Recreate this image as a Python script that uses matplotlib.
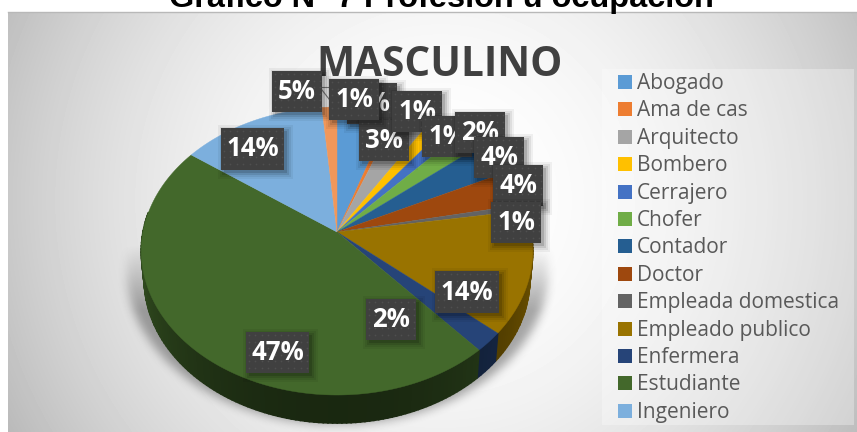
import numpy as np
import matplotlib
matplotlib.use('Agg')
import matplotlib.pyplot as plt
from matplotlib.patches import Rectangle, Polygon

categorias = ['Abogado', 'Ama de cas', 'Arquitecto', 'Bombero', 'Cerrajero', 'Chofer', 'Contador',
              'Doctor', 'Empleada domestica', 'Empleado publico', 'Enfermera', 'Estudiante', 'Ingeniero']
# la ultima porcion no sale en la leyenda recortada
valores = [5.1, 0.6, 3.1, 1.5, 1.5, 2.2, 3.8, 4.0, 0.7, 13.8, 2.2, 46.4, 13.6, 1.4]
colores = ['#5B9BD5', '#ED7D31', '#A5A5A5', '#FFC000', '#4472C4', '#70AD47', '#255E91',
           '#9E480E', '#636363', '#997300', '#264478', '#43682B', '#7CAFDD', '#F1975A']
textos = ['5%', '3%', '1%', '1%', '2%', '4%', '4%', '1%', '14%', '2%', '47%', '14%']

W, H = 857, 432
fig = plt.figure(figsize=(W / 100, H / 100), dpi=100)
ax = fig.add_axes([0, 0, 1, 1])
ax.axis('off')

# fondo con degradado radial
yy, xx = np.mgrid[12:H, 8:W]
d = np.hypot(xx - 440, yy - 200) / 470
fondo = np.clip(1 - 0.25 * d ** 2, 0, 1)
ax.imshow(fondo, extent=(8, W, H, 12), cmap='gray', vmin=0, vmax=1, zorder=0, aspect='auto')
ax.plot([8, W], [12, 12], color='#b8b8b8', lw=1, zorder=1)

# panel de la leyenda, algo mas claro
ax.add_patch(Rectangle((602, 69), 252, 356, fc='white', ec='none', alpha=0.3, zorder=0.5))

# sombra difusa debajo de la torta
yy, xx = np.mgrid[0:H, 0:W]
mask = (((xx - 337) / 211.0) ** 2 + ((yy - 270) / 154.0) ** 2 < 1).astype(float)
kernel = np.ones(11) / 11
for _ in range(2):
    mask = np.apply_along_axis(lambda r: np.convolve(r, kernel, mode='same'), 0, mask)
    mask = np.apply_along_axis(lambda r: np.convolve(r, kernel, mode='same'), 1, mask)
sombra = np.zeros((H, W, 4))
sombra[..., :3] = 0.25
sombra[..., 3] = 0.45 * mask * np.clip((yy - 245) / 65.0, 0, 1)
ax.imshow(sombra, extent=(0, W, H, 0), zorder=1, aspect='auto')
ax.set_xlim(0, W)
ax.set_ylim(H, 0)

# proyeccion en perspectiva del circulo
cx, cy = 337, 232
k, A, B = 0.132, 141.5, 194
grosor = 28


def proyectar(ang):
    u, v = np.sin(ang), -np.cos(ang)
    return cx + B * u / (1 - k * v), cy + A * v / (1 - k * v)


def oscurecer(color, f):
    return tuple(c * f for c in matplotlib.colors.to_rgb(color))


bordes = np.cumsum([0] + valores) / sum(valores) * 2 * np.pi

# paredes laterales
for i, col in enumerate(colores):
    a = np.linspace(bordes[i], bordes[i + 1], max(3, int(valores[i] * 3)))
    px, py = proyectar(a)
    for j in range(len(a) - 1):
        med = (a[j] + a[j + 1]) / 2
        if np.cos(med) > 0.15:
            continue
        f = 0.72 - 0.34 * max(0, -np.cos(med)) ** 1.5
        qx = cx + (px[j:j + 2] - cx) * 0.985
        qy = py[j:j + 2] + grosor
        pts = [(px[j], py[j]), (px[j + 1], py[j + 1]), (qx[1], qy[1]), (qx[0], qy[0])]
        c = oscurecer(col, f)
        ax.add_patch(Polygon(pts, closed=True, fc=c, ec=c, lw=1.2, zorder=2))

# cara superior
for i, col in enumerate(colores):
    a = np.linspace(bordes[i], bordes[i + 1], max(3, int(valores[i] * 4)))
    px, py = proyectar(a)
    pts = [(cx, cy)] + list(zip(px, py))
    ax.add_patch(Polygon(pts, closed=True, fc=col, ec=col, lw=0.3, zorder=3))

ax.plot([322, 329], [87, 87], color='#808080', lw=0.8, zorder=4)
ax.plot([322, 329], [90, 99], color='#808080', lw=0.8, zorder=4)


def caja(x0, y0, x1, y1, texto, z):
    for e, al in [(6, 0.05), (4, 0.07), (2, 0.1), (0, 0.14)]:
        ax.add_patch(Rectangle((x0 + 3 - e, y0 + 3 - e), x1 - x0 + 2 * e, y1 - y0 + 2 * e,
                               fc='black', ec='none', alpha=al, zorder=z))
    ax.add_patch(Rectangle((x0, y0), x1 - x0, y1 - y0, fc='#404040', ec='none', zorder=z + 0.1))
    gx, gy = np.meshgrid(np.arange(x0 + 3, x1 - 1, 6.5), np.arange(y0 + 3, y1 - 1, 6.5))
    ax.scatter(gx.ravel(), gy.ravel(), s=1.5, color='#4f4f4f', linewidths=0, zorder=z + 0.2)
    ax.text((x0 + x1) / 2, (y0 + y1) / 2, texto, color='white', fontsize=18.5, fontweight='bold',
            family='Open Sans', ha='center', va='center', zorder=z + 0.3)


# cajas de etiquetas, en el orden de las porciones
cajas = [(347, 83, 397, 124), (359, 120, 409, 161), (392, 91, 442, 132), (422, 116, 472, 157),
         (455, 112, 505, 153), (474, 137, 524, 178), (493, 165, 543, 206), (491, 202, 541, 243),
         (435, 271, 499, 313), (366, 299, 416, 340), (246, 332, 309, 373), (221, 128, 284, 170)]
caja(272, 71, 322, 112, '5%', 9)
for n, (b, t) in enumerate(zip(cajas, textos)):
    caja(*b, t, 10 + n)
caja(329, 79, 379, 120, '1%', 40)

ax.text(440, 66, 'MASCULINO', fontsize=29.2, fontweight='bold', family='Open Sans', color='#404040',
        ha='center', va='center', zorder=5)
ax.text(441, 7, 'Gráfico N° 7 Profesión u ocupación', fontsize=23.4, fontweight='bold',
        family='Liberation Sans', color='black', ha='center', va='baseline', zorder=5)

# leyenda
for i, nombre in enumerate(categorias):
    y = 82 + i * 27.4
    ax.add_patch(Rectangle((618, y - 7), 14, 14, fc=colores[i], ec='none', zorder=5))
    ax.text(637, y + 1.5, nombre, fontsize=15, family='Open Sans', color='#595959', ha='left', va='center', zorder=5)

fig.savefig('out.png', dpi=100)
